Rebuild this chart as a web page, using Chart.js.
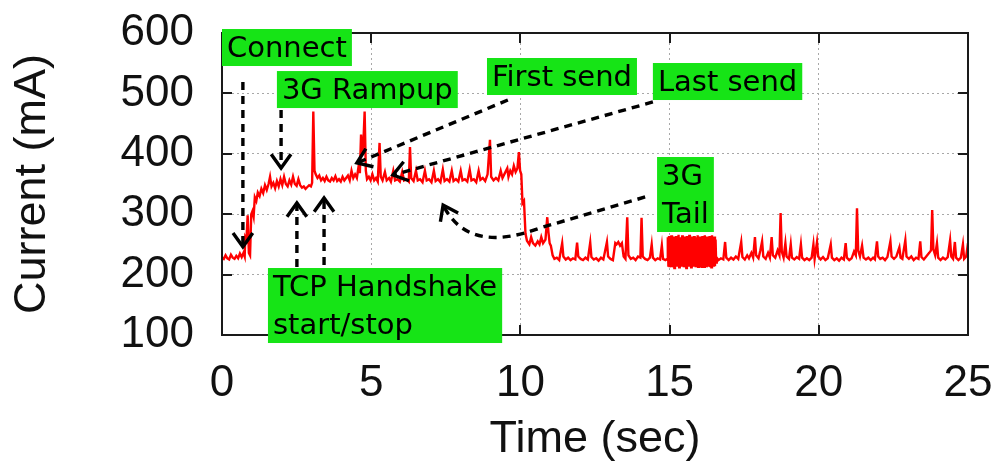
<!DOCTYPE html>
<html>
<head>
<meta charset="utf-8">
<script src="https://cdn.jsdelivr.net/npm/chart.js@4/dist/chart.umd.min.js"></script>
<style>
  html, body { margin: 0; padding: 0; background: #ffffff; }
  #wrap { width: 994px; height: 472px; }
</style>
</head>
<body>
<div id="wrap"><canvas id="c" width="994" height="472"></canvas></div>
<script>
// Current draw of the phone radio during one short transfer, [seconds, mA].
const idleBefore = [
  [0.00,228],[0.06,226],[0.12,232],[0.18,227],[0.24,225],[0.30,233],[0.36,228],
  [0.42,226],[0.48,231],[0.54,227],[0.60,235],[0.66,229],[0.72,236],[0.76,230]
];
const connectRamp = [
  [0.78,262],[0.82,258],[0.86,298],[0.90,236],[0.94,232],[0.98,300],[1.02,305],[1.06,296],
  [1.10,328],[1.15,322],[1.20,336],[1.26,330],[1.32,342],[1.38,335],[1.44,348],[1.50,340],
  [1.56,350],[1.61,362],[1.66,346],[1.72,352],[1.78,343],[1.84,355],[1.90,346],[1.96,358],
  [2.02,348],[2.08,362],[2.14,350],[2.20,346],[2.26,356],[2.32,349],[2.38,362],[2.44,350],
  [2.50,347],[2.56,358],[2.62,348],[2.68,344],[2.74,346],[2.80,342],[2.86,345],[2.92,348],
  [2.98,346],[3.02,352]
];
const transfer = [
  [3.06,470],[3.10,372],[3.14,366],[3.20,360],[3.26,364],[3.32,356],[3.38,360],[3.44,355],
  [3.50,362],[3.56,356],[3.62,354],[3.68,360],[3.74,356],[3.80,363],[3.86,355],[3.92,358],
  [3.98,354],[4.04,362],[4.10,356],[4.16,360],[4.22,364],[4.28,356],[4.34,372],[4.40,360],
  [4.46,366],[4.52,360],[4.58,380],[4.62,368],[4.66,432],[4.70,400],[4.74,420],[4.78,470],
  [4.82,372],[4.86,358],[4.92,362],[4.98,356],[5.04,366],[5.10,356],[5.16,360],[5.22,354],
  [5.28,418],[5.32,362],[5.38,356],[5.46,370],[5.52,356],[5.60,360],[5.66,354],[5.74,372],
  [5.80,356],[5.88,358],[5.96,354],[6.04,370],[6.10,356],[6.18,358],[6.26,354],[6.30,411],
  [6.34,360],[6.42,355],[6.50,372],[6.56,356],[6.64,358],[6.72,353],[6.80,372],[6.86,356],
  [6.94,358],[7.02,353],[7.10,372],[7.16,355],[7.24,358],[7.32,353],[7.40,374],[7.46,355],
  [7.54,358],[7.62,354],[7.70,372],[7.76,355],[7.84,358],[7.92,354],[8.00,372],[8.06,356],
  [8.14,358],[8.22,354],[8.30,374],[8.36,356],[8.44,358],[8.52,353],[8.60,372],[8.66,357],
  [8.74,360],[8.82,355],[8.90,366],[8.98,423],[9.02,362],[9.10,356],[9.18,360],[9.26,356],
  [9.34,372],[9.40,360],[9.48,368],[9.56,376],[9.60,362],[9.66,372],[9.72,366],[9.78,380],
  [9.84,370],[9.90,376],[9.95,403],[9.99,372],[10.03,366]
];
const dropToTail = [
  [10.07,318],[10.12,322],[10.17,268],[10.22,256],[10.30,250],[10.36,262],[10.42,252],
  [10.50,248],[10.58,255],[10.64,250],[10.70,262],[10.76,252],[10.84,258],[10.90,295],
  [10.94,270],[10.98,252],[11.02,248],[11.08,232],[11.14,226],[11.22,228],[11.30,224]
];
const tailLow = [
  [11.40,252],[11.44,230],[11.52,225],[11.60,228],[11.68,224],[11.76,227],[11.84,225],
  [11.90,253],[11.94,230],[12.02,226],[12.10,224],[12.18,228],[12.26,225],[12.34,253],
  [12.38,229],[12.46,225],[12.54,227],[12.62,223],[12.70,228],[12.78,225],[12.90,254],
  [12.94,230],[13.02,226],[13.10,224],[13.18,252],[13.22,250],[13.28,254],[13.34,248],
  [13.40,252],[13.46,230],[13.52,226],[13.58,295],[13.62,232],[13.70,226],[13.78,228],
  [13.86,224],[13.94,230],[14.02,228],[14.06,294],[14.10,230],[14.18,226],[14.26,224],
  [14.34,228],[14.40,250],[14.44,228],[14.52,224],[14.60,227],[14.68,225],[14.74,248],
  [14.78,226],[14.86,224],[14.92,226]
];
const tailBurst = [
  [14.94,262],[14.96,213],[14.98,264],[15.00,212],[15.02,261],[15.04,215],[15.06,265],
  [15.08,212],[15.10,259],[15.12,214],[15.14,263],[15.16,211],[15.18,262],[15.20,216],
  [15.22,264],[15.24,213],[15.26,260],[15.28,214],[15.30,266],[15.32,212],[15.34,262],
  [15.36,215],[15.38,261],[15.40,213],[15.42,265],[15.44,214],[15.46,261],[15.48,212],
  [15.50,263],[15.52,215],[15.54,259],[15.56,211],[15.58,264],[15.60,214],[15.62,262],
  [15.64,213],[15.66,266],[15.68,215],[15.70,260],[15.72,212],[15.74,263],[15.76,216],
  [15.78,261],[15.80,213],[15.82,264],[15.84,214],[15.86,259],[15.88,212],[15.90,262],
  [15.92,215],[15.94,265],[15.96,213],[15.98,260],[16.00,212],[16.02,263],[16.04,214],
  [16.06,262],[16.08,211],[16.10,264],[16.12,215],[16.14,261],[16.16,213],[16.18,265],
  [16.20,214],[16.22,260],[16.24,212],[16.26,263],[16.28,216],[16.30,262],[16.32,213],
  [16.34,264],[16.36,214],[16.38,261],[16.40,212],[16.42,265],[16.44,215],[16.46,260],
  [16.48,213],[16.50,263],[16.52,214],[16.54,258],[16.56,220]
];
const idleAfter = [
  [16.58,228],[16.64,224],[16.72,227],[16.80,225],[16.86,254],[16.90,228],[16.98,224],
  [17.06,228],[17.14,225],[17.22,230],[17.30,226],[17.40,254],[17.44,229],[17.52,225],
  [17.60,232],[17.66,227],[17.74,236],[17.80,228],[17.86,262],[17.90,232],[17.98,227],
  [18.04,240],[18.10,255],[18.14,230],[18.22,226],[18.30,236],[18.36,228],[18.42,262],
  [18.46,232],[18.54,228],[18.62,240],[18.68,232],[18.72,302],[18.76,238],[18.82,228],
  [18.88,252],[18.92,230],[19.00,226],[19.06,250],[19.10,228],[19.18,225],[19.26,229],
  [19.34,226],[19.40,250],[19.44,228],[19.52,224],[19.60,227],[19.68,224],[19.76,228],
  [19.82,250],[19.86,226],[19.94,254],[19.98,230],[20.06,225],[20.14,229],[20.22,224],
  [20.30,227],[20.40,250],[20.44,228],[20.52,224],[20.60,227],[20.68,223],[20.76,228],
  [20.84,225],[20.90,252],[20.94,228],[21.02,224],[21.10,227],[21.18,238],[21.24,232],
  [21.28,310],[21.32,240],[21.38,230],[21.45,248],[21.50,228],[21.58,225],[21.66,228],
  [21.74,224],[21.82,228],[21.88,225],[21.95,255],[21.99,230],[22.06,226],[22.14,228],
  [22.22,224],[22.30,229],[22.40,255],[22.44,230],[22.52,226],[22.60,230],[22.70,245],
  [22.74,228],[22.80,226],[22.90,257],[22.94,230],[23.02,226],[23.10,230],[23.18,224],
  [23.26,228],[23.34,226],[23.40,255],[23.44,229],[23.52,225],[23.60,230],[23.70,236],
  [23.76,240],[23.80,307],[23.84,242],[23.90,232],[23.96,252],[24.00,228],[24.08,224],
  [24.16,228],[24.24,225],[24.32,229],[24.40,257],[24.44,230],[24.50,226],[24.56,254],
  [24.60,228],[24.68,224],[24.76,228],[24.83,250],[24.87,226],[24.94,230],[25.00,252]
];

const xTicks = [0, 5, 10, 15, 20, 25];
const yTicks = [100, 200, 300, 400, 500, 600];

// Event labels: text lines and top-left corner in (sec, mA).
const callouts = [
  { lines: ['Connect'],                    at: [0.00, 606.6] },
  { lines: ['3G Rampup'],                  at: [1.84, 537.0] },
  { lines: ['First send'],                 at: [8.88, 558.6] },
  { lines: ['Last send'],                  at: [14.44, 550.3] },
  { lines: ['3G', 'Tail'],                 at: [14.58, 394.7] },
  { lines: ['TCP Handshake', 'start/stop'], at: [1.54, 210.9] }
];
// Dashed pointers from each label to its moment on the trace, in (sec, mA).
const pointers = [
  { path: [[0.70, 519.0], [0.70, 246.0]] },
  { path: [[1.98, 472.5], [1.98, 376.5]] },
  { path: [[2.51, 212.6], [2.51, 318.5]] },
  { path: [[3.42, 216.0], [3.42, 326.8]] },
  { path: [[9.58, 489.0], [4.52, 384.8]] },
  { path: [[14.44, 485.8], [5.73, 364.9]] },
  { path: [[14.18, 328.5], [10.66, 277.2]], curve: { ctrl: [8.24, 232.5], end: [7.41, 315.2] } }
];

const trace = [].concat(idleBefore, connectRamp, transfer, dropToTail, tailLow, tailBurst, idleAfter)
  .map(([t, mA]) => ({ x: t, y: mA }));

const LABEL_GREEN = 'rgb(22, 228, 22)';
const INNER_TICK = 10;

const frameAndNotes = {
  id: 'frameAndNotes',
  afterDraw(chart) {
    const { ctx, chartArea: a, scales: { x, y } } = chart;
    const toPx = ([t, mA]) => [x.getPixelForValue(t), y.getPixelForValue(mA)];
    ctx.save();

    // gnuplot-style inward ticks, mirrored on all four sides
    ctx.strokeStyle = '#1a1a1a';
    ctx.lineWidth = 2;
    ctx.beginPath();
    x.ticks.forEach(tk => {
      if (tk.value <= x.min || tk.value >= x.max) return;
      const px = Math.round(x.getPixelForValue(tk.value));
      ctx.moveTo(px, a.bottom); ctx.lineTo(px, a.bottom - INNER_TICK);
      ctx.moveTo(px, a.top); ctx.lineTo(px, a.top + INNER_TICK);
    });
    y.ticks.forEach(tk => {
      if (tk.value <= y.min || tk.value >= y.max) return;
      const py = Math.round(y.getPixelForValue(tk.value));
      ctx.moveTo(a.left, py); ctx.lineTo(a.left + INNER_TICK, py);
      ctx.moveTo(a.right, py); ctx.lineTo(a.right - INNER_TICK, py);
    });
    ctx.stroke();
    ctx.strokeRect(a.left, a.top, a.right - a.left, a.bottom - a.top);

    // dashed pointers with open arrow heads
    ctx.strokeStyle = '#000';
    ctx.lineWidth = 3.4;
    pointers.forEach(p => {
      const pts = p.path.map(toPx);
      ctx.setLineDash([8, 6]);
      ctx.beginPath();
      ctx.moveTo(pts[0][0], pts[0][1]);
      for (let i = 1; i < pts.length; i++) ctx.lineTo(pts[i][0], pts[i][1]);
      let from = pts[pts.length - 2];
      let tip = pts[pts.length - 1];
      if (p.curve) {
        const c = toPx(p.curve.ctrl), e = toPx(p.curve.end);
        ctx.quadraticCurveTo(c[0], c[1], e[0], e[1]);
        from = c; tip = e;
      }
      ctx.stroke();
      ctx.setLineDash([]);
      const ang = Math.atan2(tip[1] - from[1], tip[0] - from[0]);
      const len = 17, spread = 0.62;
      ctx.beginPath();
      ctx.moveTo(tip[0] - len * Math.cos(ang - spread), tip[1] - len * Math.sin(ang - spread));
      ctx.lineTo(tip[0], tip[1]);
      ctx.lineTo(tip[0] - len * Math.cos(ang + spread), tip[1] - len * Math.sin(ang + spread));
      ctx.stroke();
    });

    // green label boxes
    ctx.font = '29px "DejaVu Sans", sans-serif';
    ctx.textBaseline = 'alphabetic';
    ctx.textAlign = 'left';
    const padX = 5, lineGap = 38;
    callouts.forEach(c => {
      const [left, top] = toPx(c.at);
      const w = Math.max(...c.lines.map(s => ctx.measureText(s).width)) + 2 * padX;
      const h = 37 + (c.lines.length - 1) * lineGap;
      ctx.fillStyle = LABEL_GREEN;
      ctx.fillRect(left, top, w, h);
      ctx.fillStyle = '#000';
      c.lines.forEach((s, i) => ctx.fillText(s, left + padX, top + 28 + i * lineGap));
    });
    ctx.restore();
  }
};

Chart.defaults.font.family = '"Liberation Sans", Arial, Helvetica, sans-serif';
Chart.defaults.color = '#111';

new Chart(document.getElementById('c'), {
  type: 'line',
  data: {
    datasets: [{
      data: trace,
      borderColor: '#ff0000',
      borderWidth: 2.4,
      pointRadius: 0,
      tension: 0,
      fill: false
    }]
  },
  options: {
    responsive: false,
    animation: false,
    parsing: false,
    layout: { padding: { top: 33, right: 26, left: 0, bottom: 0 } },
    plugins: { legend: { display: false }, tooltip: { enabled: false } },
    scales: {
      x: {
        type: 'linear',
        min: xTicks[0],
        max: xTicks[xTicks.length - 1],
        afterBuildTicks: s => { s.ticks = xTicks.map(v => ({ value: v })); },
        afterFit: s => { s.height = 137; s.paddingLeft = 0; s.paddingRight = 0; },
        ticks: { autoSkip: false, maxRotation: 0, padding: 22, font: { size: 44 }, color: '#111' },
        grid: { color: '#a8a8a8', lineWidth: 1, drawTicks: false },
        border: { display: false, dash: [2, 3] },
        title: { display: true, text: 'Time (sec)', font: { size: 45 }, color: '#111', padding: { top: 0, bottom: 5 } }
      },
      y: {
        type: 'linear',
        min: yTicks[0],
        max: yTicks[yTicks.length - 1],
        afterBuildTicks: s => { s.ticks = yTicks.map(v => ({ value: v })); },
        afterFit: s => { s.width = 222; s.paddingTop = 0; s.paddingBottom = 0; },
        ticks: { autoSkip: false, padding: 28, font: { size: 44 }, color: '#111' },
        grid: { color: '#a8a8a8', lineWidth: 1, drawTicks: false },
        border: { display: false, dash: [2, 3] },
        title: { display: true, text: 'Current (mA)', font: { size: 45 }, color: '#111', padding: { top: 6, bottom: 0 } }
      }
    }
  },
  plugins: [frameAndNotes]
});
</script>
</body>
</html>
